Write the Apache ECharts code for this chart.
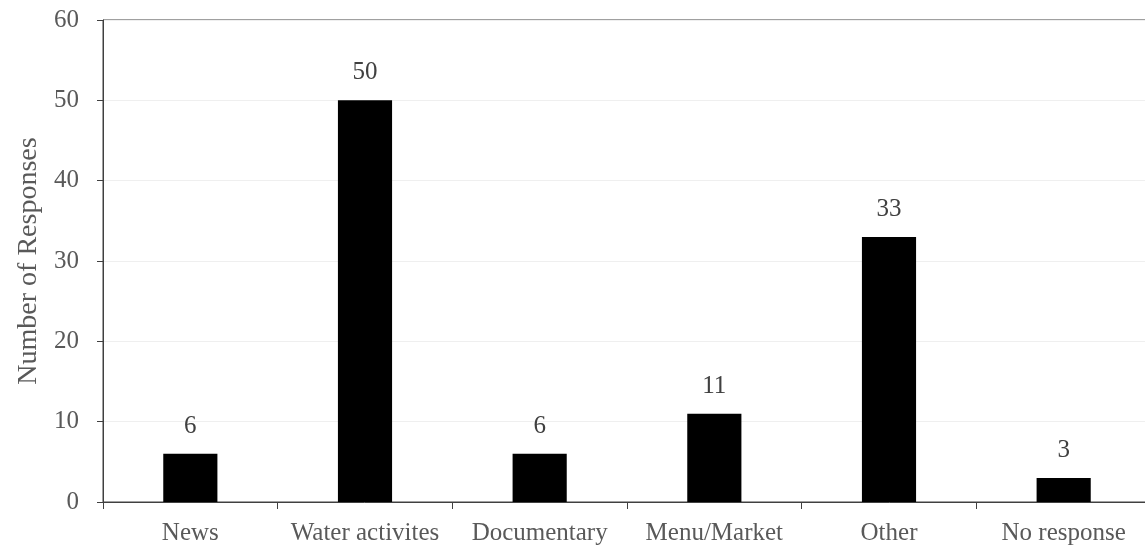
<!DOCTYPE html>
<html><head><meta charset="utf-8">
<script src="https://cdn.jsdelivr.net/npm/echarts@6/dist/echarts.min.js"></script>
<style>html,body{margin:0;padding:0;background:#fff;overflow:hidden;width:1145px;height:548px}#c{width:1151px;height:548px}</style>
</head><body><div id="c"></div>
<script>
const categories = ["News", "Water activites", "Documentary", "Menu/Market", "Other", "No response"];
const responses = [6, 50, 6, 11, 33, 3];
const yTicks = [0, 10, 20, 30, 40, 50, 60];

const font = '"Liberation Serif", "Times New Roman", serif';
const chart = echarts.init(document.getElementById('c'), null, {renderer: 'canvas'});
chart.setOption({
  animation: false,
  grid: {left: 103, right: 0, top: 20, bottom: 46, show: true, borderColor: '#404040', borderWidth: 1, backgroundColor: 'transparent'},
  xAxis: {
    type: 'category', data: categories,
    axisLine: {lineStyle: {color: '#404040', width: 1}},
    axisTick: {show: true, length: 7, alignWithLabel: false, lineStyle: {color: '#404040'}},
    axisLabel: {fontFamily: font, fontSize: 25, color: '#595959', margin: 19, interval: 0}
  },
  yAxis: {
    type: 'value', min: yTicks[0], max: yTicks[yTicks.length - 1], interval: 10,
    name: 'Number of Responses', nameLocation: 'middle', nameGap: 60,
    nameTextStyle: {fontFamily: font, fontSize: 28, color: '#595959'},
    axisLine: {show: true, lineStyle: {color: '#404040', width: 1}},
    axisTick: {show: true, length: 6, lineStyle: {color: '#404040'}},
    axisLabel: {fontFamily: font, fontSize: 25, color: '#595959', margin: 24},
    splitLine: {lineStyle: {color: '#efefef', width: 1}}
  },
  series: [{
    type: 'bar', data: responses, barWidth: '31%',
    itemStyle: {color: '#000'},
    label: {show: true, position: 'top', distance: 15, fontFamily: font, fontSize: 25, color: '#404040'}
  }]
});
</script></body></html>
